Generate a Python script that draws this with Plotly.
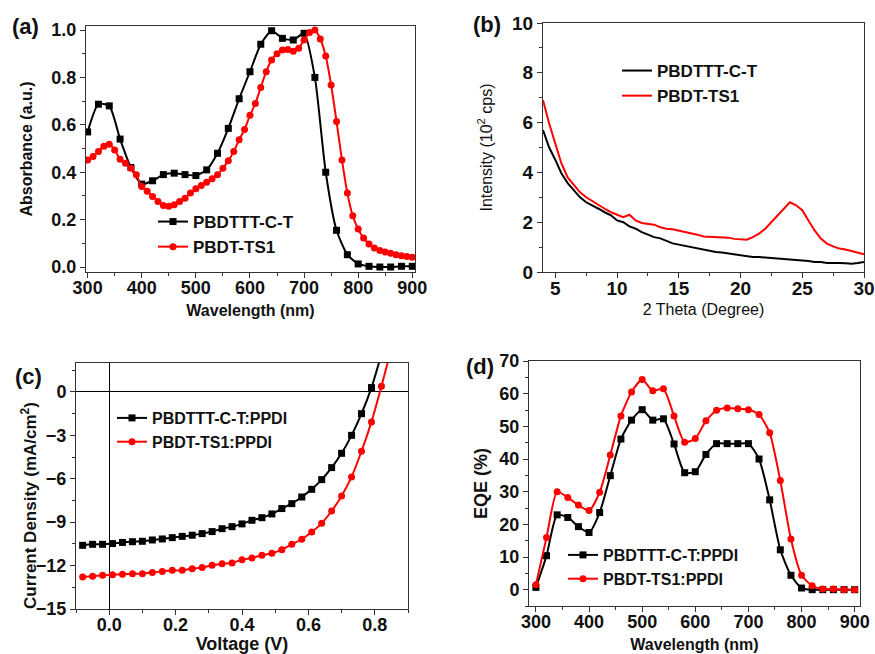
import plotly.graph_objects as go

# ---------------- (a) absorption ----------------
abs_wl_black = list(range(300, 901, 20))
abs_black = [0.57, 0.687, 0.68, 0.54, 0.42, 0.35, 0.364, 0.39, 0.396, 0.39, 0.386, 0.41,
             0.48, 0.585, 0.71, 0.824, 0.94, 0.997, 0.965, 0.958, 0.986, 0.80, 0.40,
             0.155, 0.052, 0.013, 0.003, 0.0, 0.0, 0.003, 0.003]
abs_wl_red = list(range(300, 901, 10))
abs_red = [0.452, 0.466, 0.487, 0.51, 0.518, 0.494, 0.455, 0.438, 0.417, 0.389, 0.34,
           0.32, 0.298, 0.277, 0.26, 0.256, 0.263, 0.277, 0.29, 0.312, 0.33, 0.344,
           0.358, 0.372, 0.389, 0.417, 0.448, 0.487, 0.537, 0.58, 0.64, 0.69, 0.758,
           0.824, 0.874, 0.90, 0.916, 0.918, 0.91, 0.923, 0.958, 0.99, 1.0, 0.962,
           0.89, 0.768, 0.614, 0.452, 0.312, 0.216, 0.16, 0.122, 0.097, 0.08, 0.07,
           0.063, 0.058, 0.052, 0.048, 0.044, 0.041]

# ---------------- (b) XRD ----------------
xrd_theta = [4.0, 4.5, 5.0, 5.5, 6.0, 6.5, 7.0, 7.5, 8.0, 8.5, 9.0, 9.5, 10.0, 10.5,
             11.0, 11.5, 12.0, 12.5, 13.0, 13.5, 14.0, 14.5, 15.0, 15.5, 16.0, 16.5,
             17.0, 17.5, 18.0, 18.5, 19.0, 19.5, 20.0, 20.5, 21.0, 21.5, 22.0, 22.5,
             23.0, 23.5, 24.0, 24.5, 25.0, 25.5, 26.0, 26.5, 27.0, 27.5, 28.0, 28.5,
             29.0, 29.5, 30.0]
xrd_black = [5.7, 5.0, 4.5, 3.95, 3.57, 3.28, 3.0, 2.8, 2.68, 2.54, 2.4, 2.28, 2.07, 2.0,
             1.83, 1.74, 1.6, 1.5, 1.4, 1.35, 1.25, 1.15, 1.1, 1.05, 1.0, 0.95,
             0.9, 0.85, 0.8, 0.78, 0.74, 0.7, 0.67, 0.63, 0.6, 0.6, 0.58, 0.56,
             0.54, 0.55, 0.5, 0.5, 0.47, 0.44, 0.4, 0.4, 0.36, 0.37, 0.36, 0.35,
             0.33, 0.36, 0.4]
xrd_red = [6.9, 5.96, 5.15, 4.35, 3.8, 3.48, 3.2, 3.0, 2.84, 2.68, 2.54, 2.4, 2.3, 2.2,
           2.3, 2.07, 1.97, 1.92, 1.9, 1.8, 1.74, 1.72, 1.67, 1.62, 1.58, 1.5,
           1.43, 1.42, 1.4, 1.39, 1.38, 1.33, 1.3, 1.3, 1.4, 1.54, 1.74, 2.0,
           2.28, 2.54, 2.8, 2.68, 2.48, 2.07, 1.67, 1.34, 1.14, 1.03, 0.94, 0.9,
           0.84, 0.76, 0.71]

# ---------------- (c) J-V ----------------
jv_v_black = [-0.08, -0.05, -0.02, 0.01, 0.04, 0.07, 0.10, 0.13, 0.16, 0.19, 0.22, 0.25,
              0.28, 0.31, 0.34, 0.37, 0.40, 0.43, 0.46, 0.49, 0.52, 0.55, 0.58, 0.61,
              0.64, 0.67, 0.70, 0.73, 0.76, 0.79, 0.82]
jv_black = [-10.6, -10.53, -10.53, -10.48, -10.4, -10.35, -10.32, -10.23, -10.16, -10.07,
            -9.98, -9.9, -9.79, -9.65, -9.45, -9.31, -9.12, -8.87, -8.69, -8.43, -8.06,
            -7.72, -7.26, -6.73, -6.06, -5.23, -4.24, -3.0, -1.5, 0.3, 2.6]
jv_v_red = [-0.08, -0.05, -0.02, 0.01, 0.04, 0.07, 0.10, 0.13, 0.16, 0.19, 0.22, 0.25,
            0.28, 0.31, 0.34, 0.37, 0.40, 0.43, 0.46, 0.49, 0.52, 0.55, 0.58, 0.61,
            0.64, 0.67, 0.70, 0.73, 0.76, 0.79, 0.82, 0.85]
jv_red = [-12.79, -12.74, -12.67, -12.63, -12.6, -12.56, -12.56, -12.47, -12.4, -12.33,
          -12.33, -12.21, -12.14, -11.98, -11.87, -11.82, -11.59, -11.47, -11.29, -11.15,
          -10.9, -10.53, -10.18, -9.68, -9.08, -8.23, -7.19, -5.87, -4.1, -2.07, 0.39, 3.0]

# ---------------- (d) EQE ----------------
eqe_wl = list(range(300, 901, 20))
eqe_black = [0.7, 10.4, 22.9, 22.1, 19.3, 17.5, 23.6, 34.9, 46.1, 51.9, 55.1, 51.9, 52.3,
             44.6, 35.8, 36.1, 41.4, 44.7, 44.7, 44.7, 44.7, 40.0, 27.5, 12.2, 4.4, 0.5,
             0.0, 0.0, 0.0, 0.0, 0.0]
eqe_red = [1.5, 16.0, 30.0, 28.2, 25.9, 24.2, 29.8, 41.2, 53.2, 60.5, 64.3, 60.9, 61.5,
           53.2, 45.1, 46.3, 51.7, 54.9, 55.6, 55.4, 55.1, 53.6, 48.0, 33.4, 15.5, 4.4,
           1.2, 0.2, 0.2, 0.0, 0.0]

BLACK = "#000000"
RED = "#ff0000"
FONT = "Liberation Sans, Arial, sans-serif"
W, H = 875, 654


def px_dom_x(a, b):
    return [a / W, b / W]


def px_dom_y(top, bottom):
    return [1 - bottom / H, 1 - top / H]


fig = go.Figure()

# (a)
fig.add_trace(go.Scatter(x=abs_wl_black, y=abs_black, name="PBDTTT-C-T", mode="lines+markers",
                         line=dict(color=BLACK, width=2, shape="spline", smoothing=0.6),
                         marker=dict(symbol="square", size=7, color=BLACK),
                         xaxis="x", yaxis="y", legend="legend"))
fig.add_trace(go.Scatter(x=abs_wl_red, y=abs_red, name="PBDT-TS1", mode="lines+markers",
                         line=dict(color=RED, width=2, shape="spline", smoothing=0.6),
                         marker=dict(symbol="circle", size=7, color=RED),
                         xaxis="x", yaxis="y", legend="legend"))
# (b)
fig.add_trace(go.Scatter(x=xrd_theta, y=xrd_black, name="PBDTTT-C-T", mode="lines",
                         line=dict(color=BLACK, width=2),
                         xaxis="x2", yaxis="y2", legend="legend2"))
fig.add_trace(go.Scatter(x=xrd_theta, y=xrd_red, name="PBDT-TS1", mode="lines",
                         line=dict(color=RED, width=2),
                         xaxis="x2", yaxis="y2", legend="legend2"))
# (c)
fig.add_trace(go.Scatter(x=jv_v_black, y=jv_black, name="PBDTTT-C-T:PPDI", mode="lines+markers",
                         line=dict(color=BLACK, width=2, shape="spline", smoothing=0.6),
                         marker=dict(symbol="square", size=7, color=BLACK),
                         xaxis="x3", yaxis="y3", legend="legend3"))
fig.add_trace(go.Scatter(x=jv_v_red, y=jv_red, name="PBDT-TS1:PPDI", mode="lines+markers",
                         line=dict(color=RED, width=2, shape="spline", smoothing=0.6),
                         marker=dict(symbol="circle", size=7, color=RED),
                         xaxis="x3", yaxis="y3", legend="legend3"))
# (d)
fig.add_trace(go.Scatter(x=eqe_wl, y=eqe_black, name="PBDTTT-C-T:PPDI", mode="lines+markers",
                         line=dict(color=BLACK, width=2, shape="spline", smoothing=0.6),
                         marker=dict(symbol="square", size=7, color=BLACK),
                         xaxis="x4", yaxis="y4", legend="legend4"))
fig.add_trace(go.Scatter(x=eqe_wl, y=eqe_red, name="PBDT-TS1:PPDI", mode="lines+markers",
                         line=dict(color=RED, width=2, shape="spline", smoothing=0.6),
                         marker=dict(symbol="circle", size=7, color=RED),
                         xaxis="x4", yaxis="y4", legend="legend4"))


def ax(domain, rng, dtick, minor_dtick, tick0=None, title="", tfont=18, bold=True,
       title_bold=True, standoff=8, anchor=None, zeroline=False, ttsize=16, fmt=None,
       lblstand=0):
    tf = dict(family=FONT, size=tfont, color="#111111", weight="bold" if bold else "normal")
    d = dict(domain=domain, range=rng, dtick=dtick, ticks="outside", ticklen=5,
             tickwidth=1, tickcolor="#333333", showline=True, linecolor="#333333",
             linewidth=1, mirror=True, showgrid=False, tickfont=tf, automargin=False,
             ticklabelstandoff=lblstand,
             minor=dict(dtick=minor_dtick, ticks="outside", ticklen=3, tickcolor="#333333",
                        showgrid=False),
             title=dict(text=title, standoff=standoff,
                        font=dict(family=FONT, size=ttsize, color="#111111",
                                  weight="bold" if title_bold else "normal")),
             zeroline=zeroline, zerolinecolor="#000000", zerolinewidth=1,
             anchor=anchor)
    if tick0 is not None:
        d["tick0"] = tick0
    if fmt is not None:
        d["tickformat"] = fmt
    return d


layout = dict(
    width=W, height=H, margin=dict(l=0, r=0, t=0, b=0, autoexpand=False),
    template="none",
    paper_bgcolor="white", plot_bgcolor="white", showlegend=True,
    xaxis=ax(px_dom_x(86, 415), [297, 905], 100, 50, tick0=300, title="Wavelength (nm)",
             standoff=8, anchor="y", fmt="d", lblstand=-6),
    yaxis=ax(px_dom_y(26, 272), [-0.021, 1.017], 0.2, 0.1, tick0=0,
             title="Absorbance (a.u.)", standoff=14, anchor="x", fmt=".1f"),
    xaxis2=ax(px_dom_x(543, 864), [4, 30], 5, 2.5, tick0=0, title="2 Theta (Degree)",
              tfont=19, title_bold=False, standoff=6, anchor="y2", lblstand=-6),
    yaxis2=ax(px_dom_y(23, 272), [0, 10], 2, 1, tick0=0,
              title="Intensity (10<sup>2</sup> cps)", tfont=19, title_bold=False,
              standoff=15, anchor="x2"),
    xaxis3=ax(px_dom_x(76, 408), [-0.1, 0.9], 0.2, 0.1, tick0=0, title="Voltage (V)",
              standoff=12, anchor="y3", zeroline=True, fmt=".1f", ttsize=18, lblstand=-6),
    yaxis3=ax(px_dom_y(363, 609), [-15, 2], 3, 1.5, tick0=0,
              title="", anchor="x3", zeroline=True),
    xaxis4=ax(px_dom_x(529, 860), [287, 910], 100, 50, tick0=300, title="Wavelength (nm)",
              standoff=8, anchor="y4", lblstand=-6),
    yaxis4=ax(px_dom_y(361, 606), [-5, 70], 10, 5, tick0=0, title="EQE (%)",
              standoff=7, anchor="x4", ttsize=18),
)


def leg(left, top, size):
    return dict(x=left / W, y=1 - top / H, xanchor="left", yanchor="top", xref="paper",
                yref="paper", bgcolor="rgba(0,0,0,0)", borderwidth=0,
                font=dict(family=FONT, size=size, color="#111111", weight="bold"),
                itemwidth=30, tracegroupgap=0)


layout["legend"] = leg(153, 204, 17)
layout["legend2"] = leg(617, 53, 17)
layout["legend3"] = leg(112, 401, 16)
layout["legend4"] = leg(563, 538, 16)

labels = [("(a)", 25, 27), ("(b)", 487, 24), ("(c)", 29, 376), ("(d)", 480, 366)]
annotations = []
for txt, cx, cy in labels:
    annotations.append(dict(text=txt, x=cx / W, y=1 - cy / H, xref="paper", yref="paper",
                            showarrow=False, xanchor="center", yanchor="middle",
                            font=dict(family=FONT, size=22, color="#111111", weight="bold")))
annotations.append(dict(text="Current Density (mA/cm<sup>2</sup>)", x=29 / W, y=1 - 506 / H,
                        xref="paper", yref="paper", showarrow=False, textangle=-90,
                        xanchor="center", yanchor="middle",
                        font=dict(family=FONT, size=17, color="#111111", weight="bold")))
layout["annotations"] = annotations

fig.update_layout(**layout)
fig.write_html("out.html", post_script="document.body.style.margin='0px';",
               config={"displayModeBar": False})
